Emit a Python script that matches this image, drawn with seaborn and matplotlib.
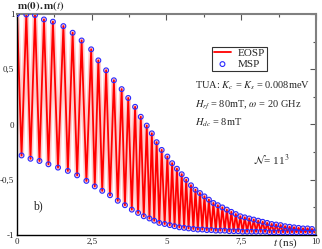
import numpy as np
import pandas as pd
import matplotlib
matplotlib.use("Agg")
import matplotlib.pyplot as plt
import seaborn as sns
from matplotlib.ticker import MultipleLocator, FuncFormatter

# maxima of m(0).m(t)
peak_t = [0.00, 0.31, 0.60, 0.90, 1.20, 1.55, 1.86, 2.16, 2.48, 2.72, 2.98,
          3.24, 3.50, 3.72, 3.95, 4.14, 4.34, 4.51, 4.67, 4.84, 5.03,
          5.19, 5.35, 5.51, 5.66, 5.82, 5.97, 6.12, 6.27, 6.42, 6.57, 6.72,
          6.87, 7.02, 7.17, 7.32, 7.47, 7.62, 7.77, 7.92, 8.07, 8.22, 8.37,
          8.52, 8.67, 8.82, 8.97, 9.12, 9.27, 9.42, 9.57, 9.72, 9.87]
peak_m = [1.00, 0.995, 0.99, 0.95, 0.93, 0.89, 0.83, 0.76, 0.68, 0.58, 0.49,
          0.40, 0.32, 0.24, 0.16, 0.07, -0.01, -0.08, -0.16, -0.23, -0.29,
          -0.35, -0.40, -0.45, -0.50, -0.55, -0.59, -0.62, -0.65, -0.68, -0.71, -0.73,
          -0.75, -0.77, -0.79, -0.81, -0.83, -0.84, -0.85, -0.86, -0.87, -0.88, -0.89,
          -0.90, -0.905, -0.91, -0.92, -0.925, -0.93, -0.935, -0.94, -0.94, -0.945]

# minima of m(0).m(t)
trough_t = [0.15, 0.45, 0.75, 1.05, 1.37, 1.70, 2.01, 2.32, 2.60, 2.85,
            3.11, 3.37, 3.61, 3.84, 4.05, 4.24, 4.43, 4.59, 4.76, 4.94,
            5.11, 5.27, 5.43, 5.59, 5.74, 5.90, 6.05, 6.20, 6.35, 6.50, 6.65,
            6.80, 6.95, 7.10, 7.25, 7.40, 7.55, 7.70, 7.85, 8.00, 8.15, 8.30,
            8.45, 8.60, 8.75, 8.90, 9.05, 9.20, 9.35, 9.50, 9.65, 9.80, 9.95]
trough_m = [-0.28, -0.31, -0.33, -0.36, -0.39, -0.42, -0.46, -0.51, -0.56, -0.60,
            -0.64, -0.69, -0.73, -0.77, -0.80, -0.83, -0.85, -0.87, -0.89, -0.90,
            -0.91, -0.92, -0.93, -0.935, -0.94, -0.945, -0.95, -0.95, -0.955, -0.955, -0.96,
            -0.96, -0.96, -0.965, -0.965, -0.965, -0.97, -0.97, -0.97, -0.97, -0.97, -0.97,
            -0.975, -0.975, -0.975, -0.975, -0.975, -0.975, -0.975, -0.975, -0.975, -0.975, -0.975]

series_names = ["EOSP", "MSP"]

df = pd.DataFrame({"t": peak_t + trough_t, "m": peak_m + trough_m})
df = df.sort_values("t").reset_index(drop=True)

sns.set_style("white")
plt.rcParams["font.family"] = ["Liberation Serif", "DejaVu Serif"]
plt.rcParams["mathtext.fontset"] = "stix"

fig = plt.figure(figsize=(3.22, 2.49), dpi=100)
ax = fig.add_axes([0.053, 0.056, 0.928, 0.888])

# EOSP: red line (with a faint halo like the dense original)
sns.lineplot(data=df, x="t", y="m", ax=ax, color="#ff5050", lw=3.6, alpha=0.3,
             estimator=None, sort=True, legend=False)
sns.lineplot(data=df, x="t", y="m", ax=ax, color="red", lw=1.3,
             estimator=None, sort=True, label=series_names[0])
# MSP: open blue circles
sns.scatterplot(data=df, x="t", y="m", ax=ax, marker="o", s=12,
                facecolor="none", edgecolor="#2a2aff", linewidth=0.8,
                label=series_names[1], zorder=3)

ax.set_xlim(0, 10)
ax.set_ylim(-1, 1)
ax.set_xlabel("")
ax.set_ylabel("")

comma = FuncFormatter(lambda v, p: f"{v:g}".replace(".", ","))
ax.xaxis.set_major_locator(MultipleLocator(2.5))
ax.xaxis.set_minor_locator(MultipleLocator(1.25))
ax.yaxis.set_major_locator(MultipleLocator(0.5))
ax.yaxis.set_minor_locator(MultipleLocator(0.25))
ax.xaxis.set_major_formatter(comma)
ax.yaxis.set_major_formatter(comma)
ax.tick_params(which="both", direction="in", top=True, right=True,
               labelsize=6.5, pad=2, color="#555555")
ax.tick_params(which="major", length=4, width=0.8)
ax.tick_params(which="minor", length=2.5, width=0.8)

for side in ["left", "bottom"]:
    ax.spines[side].set_color("black")
    ax.spines[side].set_linewidth(1.0)
for side in ["top", "right"]:
    ax.spines[side].set_color("#808080")
    ax.spines[side].set_linewidth(1.5)

leg = ax.legend(loc="upper left", bbox_to_anchor=(0.652, 0.852), fontsize=8,
                frameon=True, fancybox=False, edgecolor="black",
                handlelength=1.6, handletextpad=0.6, borderpad=0.15,
                labelspacing=0.1, borderaxespad=0)
leg.get_frame().set_linewidth(0.8)

ax.text(0.0, 1.006, r"$\mathbf{m}\mathbf{(0).}\mathbf{m}\mathbf{(}t\mathbf{)}$",
        transform=ax.transAxes, ha="left", va="bottom", fontsize=8)
ax.text(0.597, 0.675, r"TUA: $K_c$ = $K_s$ = 0.008meV",
        transform=ax.transAxes, ha="left", va="center", fontsize=7.5)
ax.text(0.597, 0.585, r"$H_{rf}$ = 80mT, $\omega$ = 20 GHz",
        transform=ax.transAxes, ha="left", va="center", fontsize=7.5)
ax.text(0.597, 0.51, r"$H_{dc}$ = 8mT",
        transform=ax.transAxes, ha="left", va="center", fontsize=7.5)
ax.text(0.79, 0.34, r"$\mathcal{N}$= 11$^3$",
        transform=ax.transAxes, ha="left", va="center", fontsize=8)
ax.text(0.055, 0.13, "b)", transform=ax.transAxes, ha="left", va="center",
        fontsize=8.5)
ax.text(0.896, -0.006, r"$t$ (ns)", transform=ax.transAxes, ha="center",
        va="top", fontsize=8)

fig.savefig("out.png", dpi=100)
